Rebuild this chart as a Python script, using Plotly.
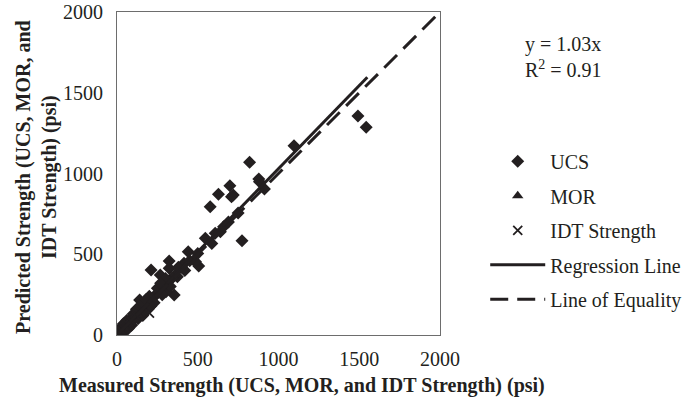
import plotly.graph_objects as go

# ---- data ----
ucs_measured = [1492, 1543, 1096, 821, 878, 913, 699, 628, 720, 709, 577, 882, 774, 587,
                750, 441, 323, 211, 268, 323, 506, 486, 415, 374, 354, 282, 547, 608, 660,
                690, 640, 500, 450, 400, 360, 340, 320, 300, 303, 280, 260, 240, 220, 200,
                190, 180, 170, 160, 150, 140, 140, 130, 120, 110, 100, 90, 80, 70, 60, 50,
                40, 30, 20, 10, 15, 25, 35, 45, 55, 65, 75, 85, 95, 105, 115, 125,
                30, 50, 60, 90, 100, 130, 150, 180, 200, 230, 250, 280, 120, 160, 70, 40,
                210, 180, 300, 330, 380, 420, 270, 20, 35, 5]
ucs_predicted = [1356, 1286, 1172, 1069, 966, 904, 924, 871, 867, 856, 794, 949, 584, 567,
                 755, 516, 458, 402, 371, 413, 427, 454, 444, 361, 248, 289, 599, 630, 670,
                 700, 640, 505, 460, 420, 372, 352, 335, 312, 268, 292, 268, 250, 228, 210,
                 200, 175, 180, 155, 160, 217, 148, 125, 130, 105, 110, 85, 90, 68, 65, 48,
                 45, 28, 25, 12, 10, 30, 40, 40, 60, 60, 85, 80, 100, 100, 125, 120,
                 50, 30, 90, 60, 130, 100, 185, 150, 240, 200, 290, 250, 160, 120, 40, 70,
                 180, 220, 350, 300, 420, 400, 320, 45, 10, 20]

mor_measured = [10, 20, 30, 45, 55, 70, 80, 95, 110, 130]
mor_predicted = [12, 18, 35, 42, 60, 68, 88, 92, 118, 125]

idt_measured = [5, 15, 25, 40, 60, 75, 90, 120, 150, 201]
idt_predicted = [8, 12, 30, 38, 55, 80, 85, 115, 140, 136]

reg_x = [0, 1550]
reg_slope = 1.03
equality_x = [0, 2000]

x_ticks = [0, 500, 1000, 1500, 2000]
y_ticks = [0, 500, 1000, 1500, 2000]

INK = "#231f20"
FONT = "Liberation Serif"
FS = 20

fig = go.Figure()
fig.add_trace(go.Scatter(x=ucs_measured, y=ucs_predicted, mode="markers", name="UCS",
                         marker=dict(symbol="diamond", size=10, color=INK), legendgroup="a"))
fig.add_trace(go.Scatter(x=mor_measured, y=mor_predicted, mode="markers", name="MOR",
                         marker=dict(symbol="triangle-up", size=10, color=INK), legendgroup="b"))
fig.add_trace(go.Scatter(x=idt_measured, y=idt_predicted, mode="markers", name="IDT Strength",
                         marker=dict(symbol="x-thin", size=9, line=dict(width=1.8, color=INK), color=INK),
                         legendgroup="c"))
fig.add_trace(go.Scatter(x=reg_x, y=[v * reg_slope for v in reg_x], mode="lines", name="Regression Line",
                         line=dict(color=INK, width=3), legendgroup="d"))
fig.add_trace(go.Scatter(x=equality_x, y=equality_x, mode="lines", name="Line of Equality",
                         line=dict(color=INK, width=3, dash="18px,9px"), legendgroup="e"))

# regression equation
fig.add_annotation(xref="paper", yref="paper", x=1.256, y=0.861, xanchor="left", yanchor="middle",
                   text="y = 1.03x<br>R<sup>2</sup> = 0.91", showarrow=False, align="left",
                   font=dict(family=FONT, size=FS, color=INK))

# axis titles
fig.add_annotation(xref="paper", yref="paper", x=0.573, y=-0.155, xanchor="center", yanchor="middle",
                   text="<b>Measured Strength (UCS, MOR, and IDT Strength) (psi)</b>", showarrow=False,
                   font=dict(family=FONT, size=FS, color=INK))
fig.add_annotation(xref="paper", yref="paper", x=-0.25, y=0.49, xanchor="center", yanchor="middle",
                   textangle=-90,
                   text="<b>Predicted Strength (UCS, MOR, and<br>IDT Strength) (psi)</b>", showarrow=False,
                   font=dict(family=FONT, size=FS, color=INK))

axis_common = dict(range=[0, 2000], showgrid=False, zeroline=False, showline=True, mirror=True,
                   linecolor="#6d6d6d", linewidth=1.2, ticks="", automargin=False,
                   tickfont=dict(family=FONT, size=FS, color=INK))

fig.update_layout(
    width=699, height=409,
    margin=dict(l=117, r=254, t=12, b=74),
    paper_bgcolor="white", plot_bgcolor="white",
    font=dict(family=FONT, size=FS, color=INK),
    xaxis=dict(**axis_common, tickvals=x_ticks, ticklabelstandoff=6),
    yaxis=dict(**axis_common, tickvals=y_ticks, ticklabelstandoff=9),
    legend=dict(x=1.14, y=0.598, xanchor="left", yanchor="top", tracegroupgap=5.5,
                itemwidth=55, borderwidth=0,
                font=dict(family=FONT, size=FS, color=INK), bgcolor="rgba(0,0,0,0)"),
    showlegend=True,
)

fig.write_html("out.html")
